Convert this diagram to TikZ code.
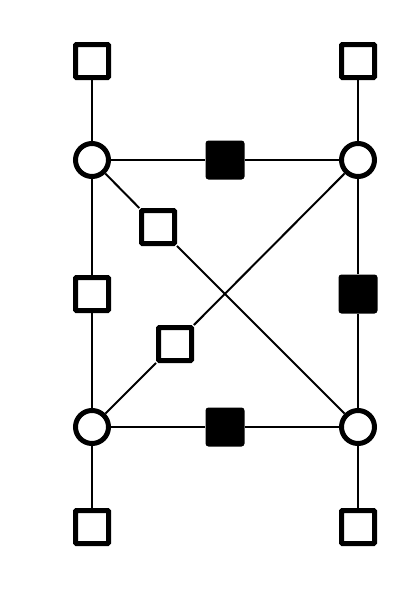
\documentclass[tikz,border=0pt]{standalone}
\usepackage{tikz}
\usetikzlibrary{positioning}
\begin{document}
\begin{tikzpicture}[x=1pt,y=-1pt,
sq/.style={draw,line width=5pt,fill=white,minimum size=33pt,inner sep=0pt,rounded corners=0.8pt},
bsq/.style={fill=black,minimum size=39pt,inner sep=0pt,rounded corners=3pt},
vert/.style={circle,draw,line width=5pt,fill=white,minimum size=33pt,inner sep=0pt}]
\useasboundingbox (0,0) rectangle (417,595);
\node[vert] (v1) at (92,160) {};
\node[vert] (v2) at (358,160) {};
\node[vert] (v3) at (92,427) {};
\node[vert] (v4) at (358,427) {};
\node[sq] (t1) at (92,61) {};
\node[sq] (t2) at (358,61) {};
\node[sq] (t3) at (92,527) {};
\node[sq] (t4) at (358,527) {};
\node[bsq] (b12) at (225,160) {};
\node[bsq] (b24) at (358,294) {};
\node[bsq] (b34) at (225,427) {};
\node[sq] (s13) at (92,294) {};
\node[sq] (s14) at (158,227) {};
\node[sq] (s23) at (175,344) {};
\path[-,line width=2pt]
(t1) edge (v1)
(t2) edge (v2)
(v3) edge (t3)
(v4) edge (t4)
(v1) edge (b12)
(b12) edge (v2)
(v1) edge (s13)
(s13) edge (v3)
(v2) edge (b24)
(b24) edge (v4)
(v3) edge (b34)
(b34) edge (v4)
(v1) edge (s14)
(s14) edge (v4)
(v3) edge (s23)
(s23) edge (v2);
\end{tikzpicture}
\end{document}
